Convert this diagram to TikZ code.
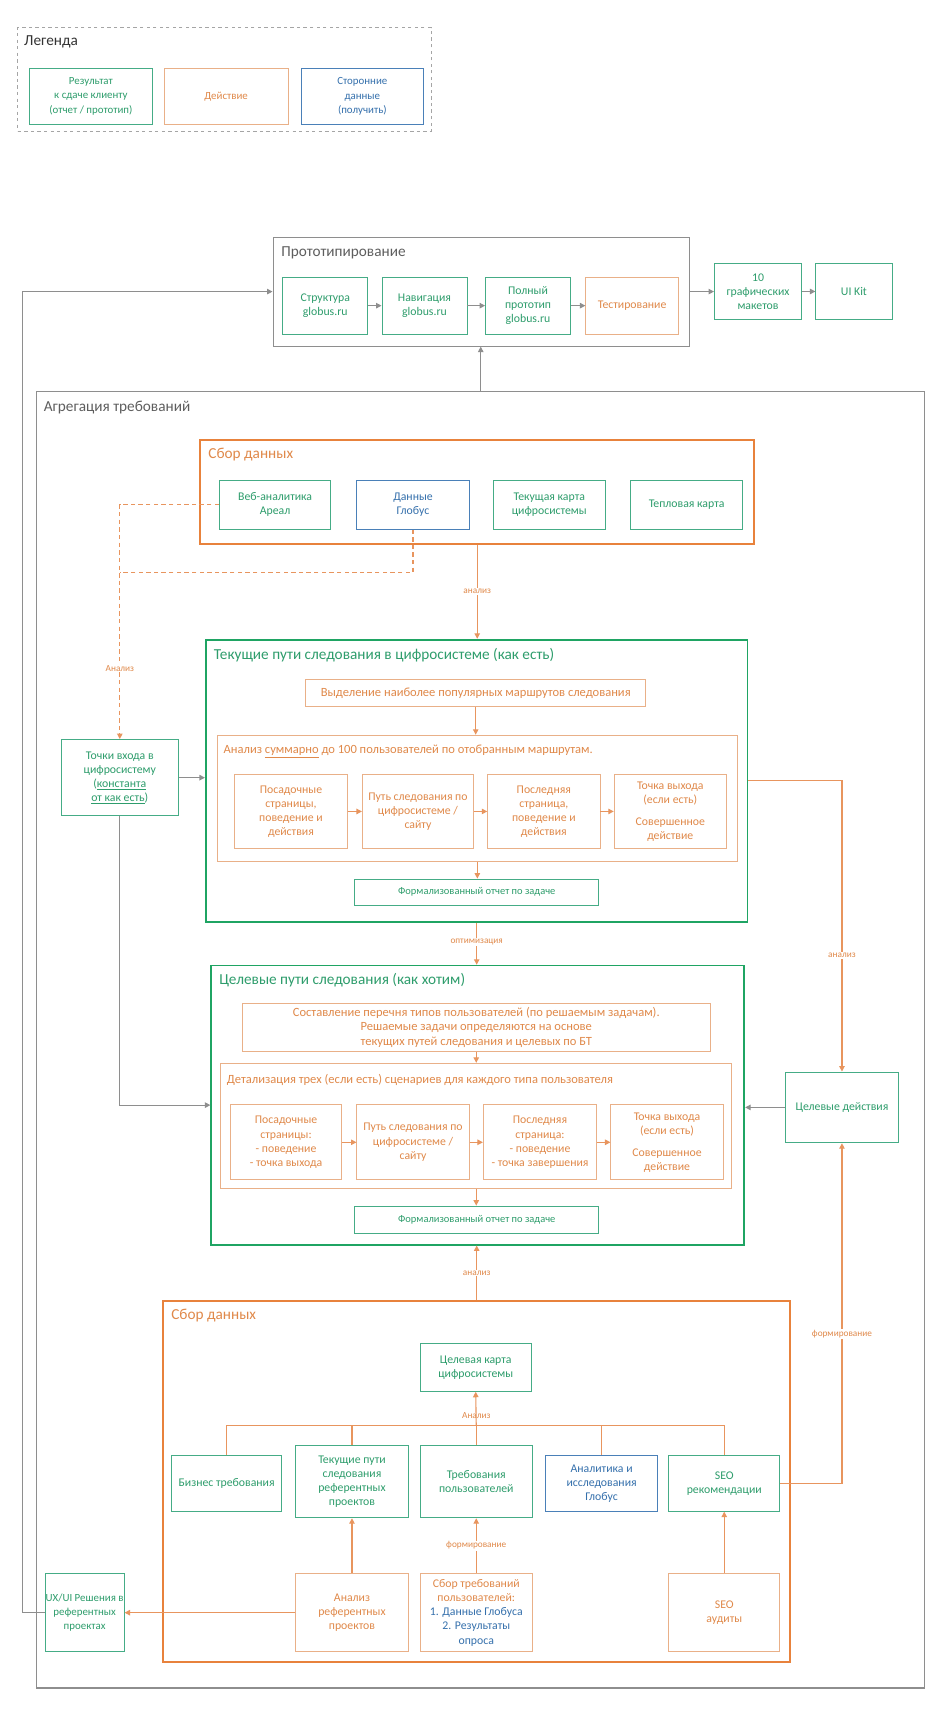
\documentclass[tikz,border=0pt]{standalone}
\usepackage{fontspec}
\setmainfont{Carlito}
\usetikzlibrary{arrows.meta}
\definecolor{cg}{HTML}{45AC86}
\definecolor{cgt}{HTML}{2E9D6C}
\definecolor{cgk}{HTML}{1FA463}
\definecolor{co}{HTML}{E9B088}
\definecolor{cok}{HTML}{E8823C}
\definecolor{col}{HTML}{E8955E}
\definecolor{cot}{HTML}{E0894A}
\definecolor{cb}{HTML}{4A80B8}
\definecolor{cbt}{HTML}{3570AC}
\definecolor{cgr}{HTML}{8E8E8E}
\definecolor{cgrt}{HTML}{5E5E5E}
\tikzset{
  sz/.style 2 args={minimum width=#1pt, minimum height=#2pt},
  base/.style={rectangle, inner sep=0.5pt, align=center, anchor=north west, line width=0.8pt, font=\fontsize{10.8}{13}\selectfont},
  gbox/.style={base, draw=cg, text=cgt},
  obox/.style={base, draw=co, text=cot},
  bbox/.style={base, draw=cb, text=cbt},
  cont/.style={rectangle, inner sep=0pt, anchor=north west},
  ttl/.style={anchor=west, inner sep=0pt, font=\fontsize{14}{16}\selectfont},
  sub/.style={anchor=west, inner sep=0pt, font=\fontsize{11.5}{13}\selectfont, text=cot},
  tip/.style={-{Triangle[width=5pt,length=5pt]}},
  garrow/.style={draw=cgr, line width=1pt, tip},
  oarrow/.style={draw=col, line width=1pt, tip},
  oline/.style={draw=col, line width=1pt},
  dsh/.style={draw=col, line width=1pt, dash pattern=on 4pt off 3pt},
  lbl/.style={fill=white, inner sep=1pt, font=\fontsize{8.5}{9}\selectfont, text=cot}
}
\begin{document}
\begin{tikzpicture}[x=1pt,y=-1pt]
\useasboundingbox[fill=white] (0,0) rectangle (864.2,1567.8);

% Legend
\node[cont, draw=cgr!80, dashed, line width=0.8pt, sz={379}{95}] (leg) at (16,25) {};
\node[ttl, text=black!80] (legt) at (22,38) {Легенда};
\node[gbox, sz={112}{52}, font=\fontsize{10}{13}\selectfont] (l1) at (27,62) {Результат\\к сдаче клиенту\\(отчет / прототип)};
\node[obox, sz={114}{52}, font=\fontsize{10}{13}\selectfont] (l2) at (150,62) {Действие};
\node[bbox, sz={112}{52}, font=\fontsize{10}{13}\selectfont] (l3) at (276,62) {Сторонние\\данные\\(получить)};

% Prototyping
\node[cont, draw=cgr, line width=1pt, sz={382}{100}] (proto) at (250,217) {};
\node[ttl, text=cgrt] (protot) at (258,232) {Прототипирование};
\node[gbox, sz={78}{52}] (s1) at (259,254) {Структура\\globus.ru};
\node[gbox, sz={78}{52}] (s2) at (350,254) {Навигация\\globus.ru};
\node[gbox, sz={78}{52}] (s3) at (445,254) {Полный\\прототип\\globus.ru};
\node[obox, sz={85}{52}] (s4) at (537,254) {Тестирование};
\node[gbox, sz={80}{52}] (m10) at (655,241) {10\\графических\\макетов};
\node[gbox, sz={70}{52}] (uik) at (748,241) {UI Kit};
\draw[garrow] (s1) -- (s2);
\draw[garrow] (s2) -- (s3);
\draw[garrow] (s3) -- (s4);
\draw[garrow] (proto.east) -- (proto.east -| m10.west);
\draw[garrow] (m10) -- (uik);

% Aggregation
\node[cont, draw=cgr, line width=1pt, sz={815}{1189}] (agg) at (33,359) {};
\node[ttl, text=cgrt] (aggt) at (40,374) {Агрегация требований};
\draw[garrow] (agg.north) -- (agg.north |- proto.south);

% Top data collection
\node[cont, draw=cok, line width=1.6pt, sz={508}{95}] (sb1) at (183,403) {};
\node[ttl, text=cot] (sb1t) at (191,417) {Сбор данных};
\node[gbox, sz={102}{45}] (d1) at (201,440) {Веб-аналитика\\Ареал};
\node[bbox, sz={103}{45}] (d2) at (327,440) {Данные\\Глобус};
\node[gbox, sz={103}{45}] (d3) at (452,440) {Текущая карта\\цифросистемы};
\node[gbox, sz={103}{45}] (d4) at (578,440) {Тепловая карта};

% Entry points
\node[gbox, sz={107}{70}] (ent) at (56,678) {Точки входа в\\цифросистему\\(\underline{константа}\\\underline{от как есть})};
\coordinate (dY) at (0,525);
\draw[dsh, tip] (d1.west) -| (ent.north);
\draw[dsh] (d2.south) |- (ent.north |- dY);
\node[lbl] at (110,613) {Анализ};

% Current paths
\node[cont, draw=cgk, line width=1.6pt, sz={497}{259}] (cur) at (188,586) {};
\node[ttl, text=cgt] (curt) at (196,601) {Текущие пути следования в цифросистеме (как есть)};
\draw[oarrow] (sb1.south) -- (sb1.south |- cur.north) node[lbl, pos=0.5] {анализ};
\node[obox, sz={312}{25}, font=\fontsize{11.5}{13}\selectfont] (c0) at (280,623) {Выделение наиболее популярных маршрутов следования};
\node[cont, draw=co, line width=0.8pt, sz={477}{116}] (ca) at (199,674) {};
\node[sub] (cat) at (205,689) {Анализ \underline{суммарно} до 100 пользователей по отобранным маршрутам.};
\node[obox, sz={103}{68}] (c1) at (215,710) {Посадочные\\страницы,\\поведение и\\действия};
\node[obox, sz={102}{68}] (c2) at (332,710) {Путь следования по\\цифросистеме /\\сайту};
\node[obox, sz={103}{68}] (c3) at (447,710) {Последняя\\страница,\\поведение и\\действия};
\node[obox, sz={103}{68}] (c4) at (563,710) {Точка выхода\\(если есть)\\[7pt]Совершенное\\действие};
\node[gbox, sz={224}{24}, font=\fontsize{9.6}{11}\selectfont] (c5) at (325,806) {Формализованный отчет по задаче};
\draw[oarrow] (c0.south) -- (c0.south |- ca.north);
\draw[oarrow] (c1) -- (c2);
\draw[oarrow] (c2) -- (c3);
\draw[oarrow] (c3) -- (c4);
\draw[oarrow] (ca.south) -- (ca.south |- c5.north);
\draw[garrow] (ent.east) -- (ent.east -| cur.west);

% Target paths
\node[cont, draw=cgk, line width=1.6pt, sz={489}{256}] (tgt) at (193,885) {};
\node[ttl, text=cgt] (tgtt) at (201,899) {Целевые пути следования (как хотим)};
\draw[oarrow] (cur.south) -- (cur.south |- tgt.north) node[lbl, pos=0.45] {оптимизация};
\node[obox, sz={429}{44}, font=\fontsize{11.5}{13}\selectfont] (t0) at (222,920) {Составление перечня типов пользователей (по решаемым задачам).\\Решаемые задачи определяются на основе\\текущих путей следования и целевых по БТ};
\node[cont, draw=co, line width=0.8pt, sz={469}{115}] (ta) at (202,975) {};
\node[sub] (tat) at (208,991) {Детализация трех (если есть) сценариев для каждого типа пользователя};
\node[obox, sz={102}{69}] (t1) at (211,1013) {Посадочные\\страницы:\\- поведение\\- точка выхода};
\node[obox, sz={103}{69}] (t2) at (327,1013) {Путь следования по\\цифросистеме /\\сайту};
\node[obox, sz={104}{69}] (t3) at (443,1013) {Последняя\\страница:\\- поведение\\- точка завершения};
\node[obox, sz={103}{69}] (t4) at (560,1013) {Точка выхода\\(если есть)\\[7pt]Совершенное\\действие};
\node[gbox, sz={224}{25}, font=\fontsize{9.6}{11}\selectfont] (t5) at (325,1106) {Формализованный отчет по задаче};
\draw[oarrow] (t0.south) -- (t0.south |- ta.north);
\draw[oarrow] (t1) -- (t2);
\draw[oarrow] (t2) -- (t3);
\draw[oarrow] (t3) -- (t4);
\draw[oarrow] (ta.south) -- (ta.south |- t5.north);
\draw[garrow] (ent.south) |- (tgt.west);

% Target actions
\node[gbox, sz={104}{65}] (tact) at (720,983) {Целевые действия};
\draw[oarrow] (cur.east) -| (tact.north) node[lbl, pos=0.8] {анализ};
\draw[garrow] (tact.west) -- (tact.west -| tgt.east);

% Bottom data collection
\node[cont, draw=cok, line width=1.6pt, sz={575}{331}] (sb2) at (149,1193) {};
\node[ttl, text=cot] (sb2t) at (157,1207) {Сбор данных};
\draw[oarrow] (sb2.north) -- (sb2.north |- tgt.south) node[lbl, pos=0.5] {анализ};
\node[gbox, sz={102}{44}] (tk) at (385,1232) {Целевая карта\\цифросистемы};
\node[gbox, sz={101}{51}] (b1) at (157,1335) {Бизнес требования};
\node[gbox, sz={103}{66}] (b2) at (271,1326) {Текущие пути\\следования\\референтных\\проектов};
\node[gbox, sz={103}{66}] (b3) at (385,1326) {Требования\\пользователей};
\node[bbox, sz={103}{51}] (b4) at (500,1335) {Аналитика и\\исследования\\Глобус};
\node[gbox, sz={102}{51}] (b5) at (613,1335) {SEO\\рекомендации};
\coordinate (busY) at (0,1308);
\draw[oline] (b1.north) -- (b1.north |- busY) -- (b5.north |- busY) -- (b5.north);
\draw[oline] (b2.north) -- (b2.north |- busY);
\draw[oline] (b3.north) -- (b3.north |- busY);
\draw[oline] (b4.north) -- (b4.north |- busY);
\draw[oarrow] (b3.north |- busY) -- (tk.south);
\node[lbl, fill=none] at (437,1299) {Анализ};

\node[obox, sz={103}{72}] (r1) at (271,1443) {Анализ\\референтных\\проектов};
\node[obox, sz={103}{72}] (r2) at (385,1443) {Сбор требований\\пользователей:\\\textcolor{cbt}{1. Данные Глобуса}\\\textcolor{cbt}{2. Результаты}\\\textcolor{cbt}{опроса}};
\node[obox, sz={102}{72}] (r3) at (613,1443) {SEO\\аудиты};
\node[gbox, sz={70}{72}, font=\fontsize{10}{13}\selectfont] (ux) at (41,1443) {UX/UI Решения в\\референтных\\проектах};
\draw[oarrow] (r1.north) -- (b2.south);
\draw[oarrow] (r2.north) -- (b3.south) node[lbl, pos=0.5] {формирование};
\draw[oarrow] (r3.north) -- (b5.south);
\draw[oarrow] (r1.west) -- (ux.east);
\draw[oarrow] (b5.east) -| (tact.south) node[lbl, pos=0.72] {формирование};

% Left return line to prototyping
\coordinate (lx) at (21,0);
\draw[garrow] (ux.west) -- (ux.west -| lx) |- (proto.west);
\end{tikzpicture}
\end{document}
